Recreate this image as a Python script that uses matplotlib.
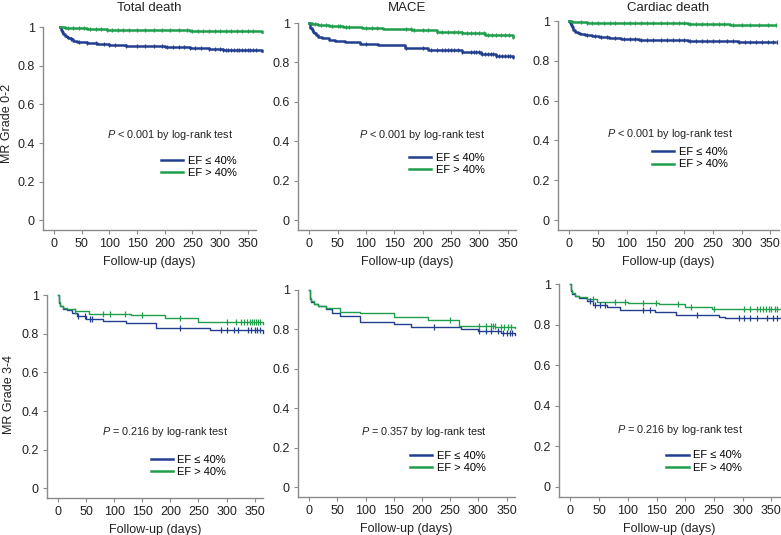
import numpy as np
import matplotlib
matplotlib.use('Agg')
import matplotlib.pyplot as plt

plt.rcParams['font.family'] = ['Liberation Sans', 'DejaVu Sans']
plt.rcParams['mathtext.fontset'] = 'custom'
plt.rcParams['mathtext.it'] = 'Liberation Sans:italic'
plt.rcParams['mathtext.rm'] = 'Liberation Sans'

BLUE = '#223e8e'
GREEN = '#1f9e4c'
GRAY = '#8a8a8a'

titles = ['Total death', 'MACE', 'Cardiac death']
row_labels = ['MR Grade 0-2', 'MR Grade 3-4']
p_texts = ['$\\it{P}$ < 0.001 by log-rank test', '$\\it{P}$ < 0.001 by log-rank test',
           '$\\it{P}$ < 0.001 by log-rank test', '$\\it{P}$ = 0.216 by log-rank test',
           '$\\it{P}$ = 0.357 by log-rank test', '$\\it{P}$ = 0.216 by log-rank test']
legend_labels = ['EF ≤ 40%', 'EF > 40%']
x_ticks = [0, 50, 100, 150, 200, 250, 300, 350]
y_ticks = [0, 0.2, 0.4, 0.6, 0.8, 1.0]
y_ticklabels = ['0', '0.2', '0.4', '0.6', '0.8', '1']

# ---- Kaplan-Meier step data ----
# MR 0-2, total death
t1_low = [11, 13, 15, 17, 20, 23, 26, 30, 35, 41, 50, 60, 77, 100, 130, 155, 200, 245, 280, 305, 340, 375]
s1_low = [1, 0.985, 0.975, 0.965, 0.955, 0.948, 0.942, 0.936, 0.930, 0.925, 0.921, 0.917, 0.913,
          0.908, 0.903, 0.900, 0.895, 0.891, 0.887, 0.883, 0.879, 0.877]
t1_high = [10, 20, 35, 60, 95, 150, 245, 300, 375]
s1_high = [1, 0.997, 0.994, 0.990, 0.986, 0.984, 0.981, 0.977, 0.973]
c1_low = [30, 45, 60, 75, 90, 100, 110, 130, 150, 165, 180, 195, 205, 215, 225, 235, 245, 255, 265,
          280, 290, 300, 305, 310, 315, 320, 325, 330, 335, 340, 345, 350, 355, 360, 365]
c1_high = [25, 35, 45, 55, 65, 75, 85, 95, 105, 115, 125, 135, 150, 165, 180, 195, 210, 225, 240,
           250, 260, 270, 280, 290, 300, 310, 320, 330, 340, 350, 360]

# MR 0-2, MACE
t2_low = [0, 1, 2, 4, 6, 8, 11, 16, 22, 34, 45, 63, 90, 122, 169, 210, 269, 304, 330, 360]
s2_low = [1, 0.99, 0.975, 0.962, 0.953, 0.947, 0.940, 0.930, 0.922, 0.914, 0.908, 0.902, 0.895,
          0.888, 0.875, 0.863, 0.855, 0.842, 0.834, 0.826]
t2_high = [0, 5, 15, 34, 60, 93, 130, 181, 225, 269, 310, 360]
s2_high = [1, 0.995, 0.990, 0.985, 0.979, 0.973, 0.969, 0.964, 0.956, 0.948, 0.940, 0.930]
c2_low = [100, 170, 200, 215, 225, 235, 240, 245, 250, 255, 262, 270, 285, 290, 295, 300, 305,
          310, 315, 320, 325, 330, 335, 340, 345, 350, 355, 360]
c2_high = [10, 20, 30, 40, 50, 55, 65, 70, 100, 110, 120, 170, 180, 185, 200, 210, 225, 235, 245,
           255, 262, 270, 278, 285, 292, 300, 308, 315, 322, 330, 338, 345, 352, 360]

# MR 0-2, cardiac death
t3_low = [0, 1, 2, 4, 7, 10, 14, 19, 27, 39, 52, 68, 90, 121, 160, 207, 250, 294, 358]
s3_low = [1, 0.99, 0.98, 0.968, 0.955, 0.947, 0.940, 0.935, 0.930, 0.925, 0.918, 0.913, 0.910,
          0.907, 0.904, 0.901, 0.899, 0.897, 0.895]
t3_high = [0, 5, 15, 30, 63, 120, 207, 280, 358]
s3_high = [1, 0.997, 0.994, 0.992, 0.990, 0.988, 0.985, 0.982, 0.980]
c3_low = [30, 45, 55, 65, 80, 95, 105, 115, 125, 135, 145, 160, 170, 180, 190, 200, 210, 220, 230,
          240, 250, 260, 275, 285, 295, 305, 315, 325, 335, 345, 355, 362]
c3_high = [20, 30, 40, 50, 60, 70, 80, 95, 105, 115, 125, 135, 145, 160, 170, 180, 190, 200, 210,
           220, 230, 240, 250, 260, 270, 285, 300, 315, 330, 345, 360]

# MR 3-4, total death
t4_low = [0, 1, 3, 8, 15, 25, 33, 50, 80, 120, 175, 270, 365]
s4_low = [1, 0.96, 0.945, 0.930, 0.920, 0.905, 0.890, 0.878, 0.865, 0.855, 0.830, 0.818, 0.805]
t4_high = [0, 1, 3, 8, 15, 30, 55, 130, 190, 250, 365]
s4_high = [1, 0.965, 0.945, 0.935, 0.928, 0.915, 0.900, 0.895, 0.880, 0.862, 0.850]
c4_low = [36, 48, 57, 60, 217, 291, 300, 314, 320, 338, 344, 350, 355, 360]
c4_high = [30, 80, 92, 119, 149, 217, 300, 317, 326, 332, 337, 341, 345, 349, 352, 356, 360]

# MR 3-4, MACE
t5_low = [0, 1, 3, 8, 15, 30, 40, 55, 90, 150, 180, 270, 300, 340, 365]
s5_low = [1, 0.955, 0.94, 0.928, 0.918, 0.905, 0.885, 0.870, 0.840, 0.826, 0.810, 0.802, 0.790,
          0.780, 0.770]
t5_high = [0, 1, 3, 8, 15, 30, 55, 90, 150, 210, 265, 330, 365]
s5_high = [1, 0.96, 0.945, 0.930, 0.920, 0.910, 0.890, 0.882, 0.864, 0.846, 0.818, 0.812, 0.806]
c5_low = [221, 302, 314, 323, 334, 343, 350, 356, 360]
c5_high = [249, 302, 314, 323, 326, 329, 340, 346, 352, 358]

# MR 3-4, cardiac death
t6_low = [0, 1, 3, 8, 14, 29, 40, 63, 86, 147, 184, 259, 270, 365]
s6_low = [1, 0.965, 0.95, 0.94, 0.932, 0.915, 0.897, 0.885, 0.872, 0.862, 0.848, 0.838, 0.830, 0.830]
t6_high = [0, 1, 3, 8, 14, 29, 46, 100, 155, 200, 247, 365]
s6_high = [1, 0.97, 0.955, 0.94, 0.935, 0.925, 0.912, 0.908, 0.900, 0.888, 0.878, 0.875]
c6_low = [34, 43, 52, 60, 126, 138, 221, 293, 302, 313, 325, 342, 353, 360]
c6_high = [40, 78, 95, 126, 149, 187, 210, 250, 302, 313, 325, 330, 335, 340, 345, 350, 356, 360]

curves = [
    (t1_low, s1_low, c1_low, t1_high, s1_high, c1_high),
    (t2_low, s2_low, c2_low, t2_high, s2_high, c2_high),
    (t3_low, s3_low, c3_low, t3_high, s3_high, c3_high),
    (t4_low, s4_low, c4_low, t4_high, s4_high, c4_high),
    (t5_low, s5_low, c5_low, t5_high, s5_high, c5_high),
    (t6_low, s6_low, c6_low, t6_high, s6_high, c6_high),
]

# panel boxes in pixels: left, right, top (y=1), bottom
W, H = 781, 535
boxes = [(43, 256, 27, 230), (298, 516, 23, 230), (558, 779, 21, 230),
         (47, 263, 295, 498), (298, 515, 290, 497), (559, 780, 284, 497)]
p_pos = [(209, 0.44), (199, 0.43), (176, 0.43), (190, 0.29), (204, 0.28), (191, 0.28)]
leg_pos = [(193, 0.275), (176, 0.285), (144, 0.31), (165, 0.115), (179, 0.128), (167, 0.125)]


def step_y(t, s, c):
    idx = np.searchsorted(t, c, side='right') - 1
    return np.asarray(s)[np.clip(idx, 0, len(s) - 1)]


fig = plt.figure(figsize=(W / 100, H / 100), dpi=100)

for i, (box, data) in enumerate(zip(boxes, curves)):
    L, R, T, B = box
    ax = fig.add_axes([L / W, 1 - B / H, (R - L) / W, (B - T) / H])
    top = i < 3
    lw = 1.8 if top else 1.0
    ms = 3.5 if top else 4
    tl, sl, cl, th, sh, ch = data
    hb, = ax.plot(tl, sl, drawstyle='steps-post', color=BLUE, lw=lw, clip_on=False)
    hg, = ax.plot(th, sh, drawstyle='steps-post', color=GREEN, lw=lw, clip_on=False)
    ax.plot(cl, step_y(tl, sl, cl), ls='none', marker='|', ms=ms, mew=0.9, color=BLUE, clip_on=False)
    ax.plot(ch, step_y(th, sh, ch), ls='none', marker='|', ms=ms, mew=0.9, color=GREEN, clip_on=False)

    ax.set_xlim(-20, 365)
    ax.set_ylim(-0.05, 1.0)
    ax.set_xticks(x_ticks)
    ax.set_yticks(y_ticks)
    ax.set_yticklabels(y_ticklabels)
    for side in ['top', 'right']:
        ax.spines[side].set_visible(False)
    for side in ['left', 'bottom']:
        ax.spines[side].set_color(GRAY)
        ax.spines[side].set_linewidth(1.0)
    ax.tick_params(direction='out', length=3, width=0.8, color=GRAY, labelsize=9,
                   labelcolor='#222222', pad=3)
    ax.set_xlabel('Follow-up (days)', fontsize=9, labelpad=4, color='#222222')

    px, py = p_pos[i]
    ax.text(px, py, p_texts[i], ha='center', va='center', fontsize=7.8, color='#222222')
    lx, ly = leg_pos[i]
    ax.legend([hb, hg], legend_labels, loc='center left', bbox_to_anchor=(lx, ly),
              bbox_transform=ax.transData, frameon=False, fontsize=8, borderpad=0,
              handlelength=2.0, handletextpad=0.4, labelspacing=0.2, borderaxespad=0)
    for line in ax.get_legend().get_lines():
        line.set_linewidth(1.8)

    if top:
        fig.text((L + R) / 2 / W, 1 - 8 / H, titles[i], ha='center', va='center',
                 fontsize=9.5, color='#222222')

fig.text(7 / W, 1 - 123 / H, row_labels[0], rotation=90, ha='center', va='center',
         fontsize=9, color='#222222')
fig.text(9 / W, 1 - 395 / H, row_labels[1], rotation=90, ha='center', va='center',
         fontsize=9, color='#222222')

fig.savefig('out.png', dpi=100, facecolor='white')
